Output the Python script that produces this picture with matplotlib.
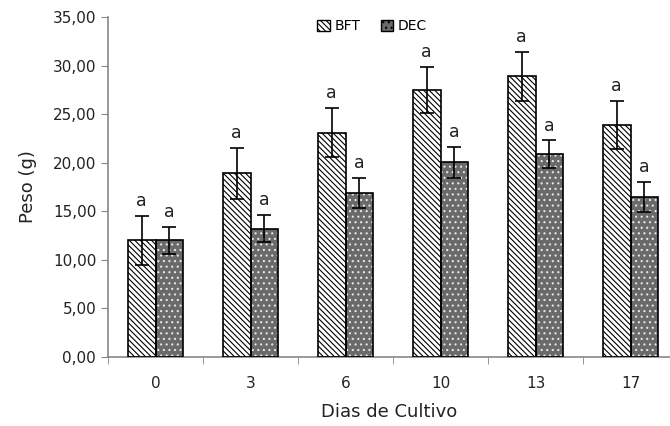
import numpy as np
import matplotlib.pyplot as plt
from matplotlib.ticker import FuncFormatter, FixedLocator

dias = ['0', '3', '6', '10', '13', '17']
bft = [12.0, 18.9, 23.1, 27.5, 28.9, 23.9]
bft_err = [2.5, 2.65, 2.5, 2.4, 2.5, 2.5]
dec = [12.0, 13.2, 16.85, 20.05, 20.9, 16.5]
dec_err = [1.4, 1.4, 1.55, 1.6, 1.4, 1.55]
letras_bft = ['a'] * 6
letras_dec = ['a'] * 6

plt.rcParams['hatch.linewidth'] = 0.8

fig = plt.figure(figsize=(6.7, 4.26), dpi=100)
ax = fig.add_axes([108 / 670, 1 - 357 / 426, 1 - 108 / 670, 340 / 426])

x = np.arange(len(dias))
w = 0.29
hatch_bft = '\\' * 6
cor_dec = '#6a6a6a'

# BFT: white with dense diagonal hatch
ax.bar(x - w / 2, bft, w, color='white', edgecolor='black', hatch=hatch_bft, lw=0, zorder=2)
ax.bar(x - w / 2, bft, w, fill=False, edgecolor='black', lw=1.2, zorder=3)
# DEC: gray dotted pattern
ax.bar(x + w / 2, dec, w, color=cor_dec, edgecolor='#e6e6e6', hatch='...', lw=0, zorder=2)
ax.bar(x + w / 2, dec, w, fill=False, edgecolor='black', lw=1.2, zorder=3)

ax.errorbar(x - w / 2, bft, yerr=bft_err, fmt='none', ecolor='black', elinewidth=1.2,
            capsize=5, capthick=1.2, zorder=4)
ax.errorbar(x + w / 2, dec, yerr=dec_err, fmt='none', ecolor='black', elinewidth=1.2,
            capsize=5, capthick=1.2, zorder=4)

for i in range(len(dias)):
    ax.text(x[i] - w / 2, bft[i] + bft_err[i] + 0.6, letras_bft[i], ha='center', va='bottom',
            fontsize=12.5, color='#222222')
    ax.text(x[i] + w / 2, dec[i] + dec_err[i] + 0.6, letras_dec[i], ha='center', va='bottom',
            fontsize=12.5, color='#222222')

ax.set_xlim(-0.5, -0.5 + 562 / 95)
ax.set_ylim(0, 35)
ax.set_yticks(np.arange(0, 36, 5))
ax.yaxis.set_major_formatter(FuncFormatter(lambda v, p: f'{v:.2f}'.replace('.', ',')))
ax.set_xticks(x)
ax.set_xticklabels(dias)
ax.xaxis.set_minor_locator(FixedLocator(np.arange(-0.5, 6, 1)))
ax.tick_params(axis='x', which='major', length=0, pad=14, labelsize=11, labelcolor='#222222')
ax.tick_params(axis='x', which='minor', length=5, color='#888888', direction='out')
ax.tick_params(axis='y', length=5, color='#888888', labelsize=11, labelcolor='#222222')

for s in ['top', 'right']:
    ax.spines[s].set_visible(False)
for s in ['left', 'bottom']:
    ax.spines[s].set_color('#888888')
    ax.spines[s].set_linewidth(1.2)

ax.set_xlabel('Dias de Cultivo', fontsize=13, color='#222222', labelpad=8)
ax.set_ylabel('Peso (g)', fontsize=13, color='#222222', labelpad=11)

h1 = plt.Rectangle((0, 0), 1, 1, facecolor='white', edgecolor='black', hatch=hatch_bft)
h2 = plt.Rectangle((0, 0), 1, 1, facecolor=cor_dec, edgecolor='black', hatch='...')
ax.legend([h1, h2], ['BFT', 'DEC'], loc='upper center', bbox_to_anchor=(0.47, 1.03), ncol=2,
          frameon=False, fontsize=10, handlelength=0.9, handleheight=0.9, handletextpad=0.3,
          columnspacing=1.5)

plt.savefig('out.png', dpi=100)
